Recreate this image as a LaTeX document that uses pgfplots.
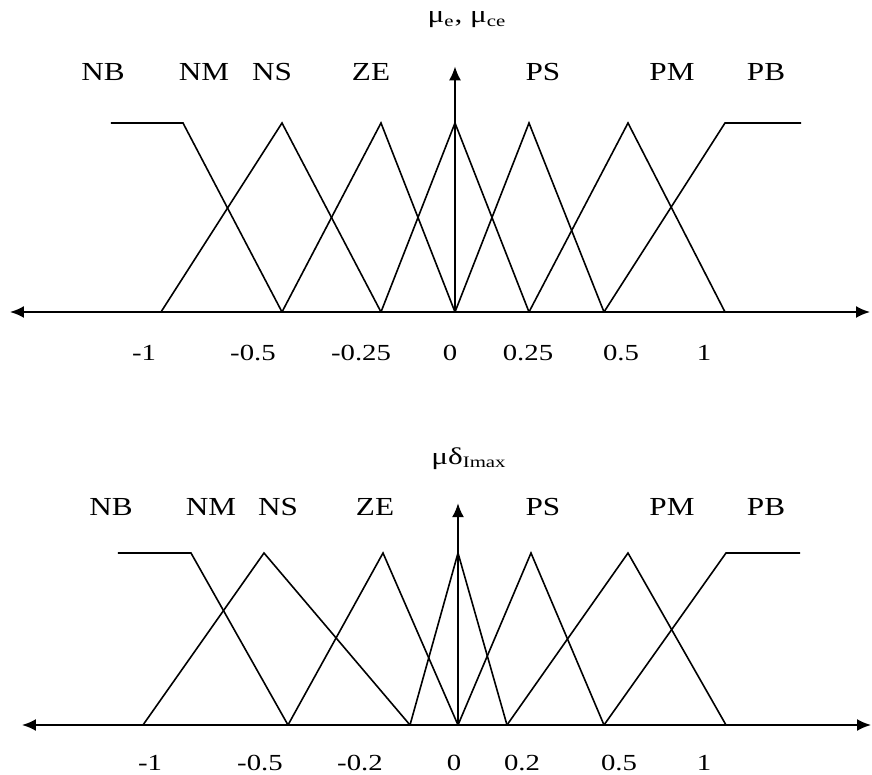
\documentclass[border=0pt]{standalone}
\usepackage{fontspec}
\setmainfont{Liberation Serif}
\newfontfamily\setfont[FakeStretch=1.2]{Liberation Serif}
\newfontfamily\tickfont[FakeStretch=1.25]{Liberation Serif}
\newfontfamily\titlefont[FakeStretch=1.3]{Liberation Serif}
\usepackage{pgfplots}
\pgfplotsset{compat=1.18}
\usetikzlibrary{arrows.meta}

% common look of both membership-function panels
\pgfplotsset{fuzzy/.style={
  x=50pt, axis lines=middle, enlargelimits=false, clip=false,
  ymin=0, ytick=\empty, major tick length=0pt,
  hide obscured x ticks=false,
  axis line style={line width=1.0pt},
  x axis line style={{Latex[length=7pt,width=6pt]}-{Latex[length=7pt,width=6pt]}},
  y axis line style={-{Latex[length=7pt,width=6pt]}},
  xticklabel style={anchor=center, font=\tickfont\fontsize{11.5}{13}\selectfont},
}}
\tikzset{
  mf/.style={black, solid, line width=0.8pt, mark=none},
  setname/.style={font=\setfont\fontsize{13}{15}\selectfont, inner sep=0pt},
  paneltitle/.style={font=\titlefont\fontsize{12}{14}\selectfont, inner sep=0pt},
}

\begin{document}
\begin{tikzpicture}
\path[use as bounding box] (-227.5pt,-231.5pt) rectangle (208.5pt,156pt);

% error / change of error
\begin{axis}[fuzzy, anchor=origin, at={(0pt,0pt)}, y=94.5pt,
  xmin=-4.45, xmax=4.15, ymax=1.30,
  xtick={-3.11,-2.02,-0.94,-0.05,0.73,1.66,2.49},
  xticklabels={-1,-0.5,-0.25,0,0.25,0.5,1},
  xticklabel style={yshift=-20.5pt}]
\addplot[mf] coordinates {(-3.44,1) (-2.72,1) (-1.73,0)};      % NB
\addplot[mf] coordinates {(-2.94,0) (-1.73,1) (-0.74,0)};      % NM
\addplot[mf] coordinates {(-1.73,0) (-0.74,1) (0,0)};          % NS
\addplot[mf] coordinates {(-0.74,0) (0,1) (0.74,0)};           % ZE
\addplot[mf] coordinates {(0,0) (0.74,1) (1.49,0)};            % PS
\addplot[mf] coordinates {(0.74,0) (1.73,1) (2.70,0)};         % PM
\addplot[mf] coordinates {(1.49,0) (2.70,1) (3.46,1)};         % PB
\node[setname] at (axis cs:-3.52,1.27) {NB};
\node[setname] at (axis cs:-2.51,1.27) {NM};
\node[setname] at (axis cs:-1.83,1.27) {NS};
\node[setname] at (axis cs:-0.84,1.27) {ZE};
\node[setname] at (axis cs:0.88,1.27) {PS};
\node[setname] at (axis cs:2.17,1.27) {PM};
\node[setname] at (axis cs:3.11,1.27) {PB};
\node[paneltitle] at (axis cs:0.12,1.545)
  {μ\textsubscript{e}, μ\textsubscript{ce}};
\end{axis}

% output increment
\begin{axis}[fuzzy, anchor=origin, at={(1.5pt,-206.5pt)}, y=86pt,
  xmin=-4.36, xmax=4.13, ymax=1.29,
  xtick={-3.08,-1.98,-0.98,-0.04,0.64,1.61,2.46},
  xticklabels={-1,-0.5,-0.2,0,0.2,0.5,1},
  xticklabel style={yshift=-19pt}]
\addplot[mf] coordinates {(-3.40,1) (-2.67,1) (-1.70,0)};      % NB
\addplot[mf] coordinates {(-3.15,0) (-1.94,1) (-0.48,0)};      % NM
\addplot[mf] coordinates {(-1.70,0) (-0.75,1) (0,0)};          % NS
\addplot[mf] coordinates {(-0.48,0) (0,1) (0.49,0)};           % ZE
\addplot[mf] coordinates {(0,0) (0.73,1) (1.46,0)};            % PS
\addplot[mf] coordinates {(0.49,0) (1.70,1) (2.68,0)};         % PM
\addplot[mf] coordinates {(1.46,0) (2.68,1) (3.42,1)};         % PB
\node[setname] at (axis cs:-3.47,1.27) {NB};
\node[setname] at (axis cs:-2.47,1.27) {NM};
\node[setname] at (axis cs:-1.80,1.27) {NS};
\node[setname] at (axis cs:-0.83,1.27) {ZE};
\node[setname] at (axis cs:0.85,1.27) {PS};
\node[setname] at (axis cs:2.14,1.27) {PM};
\node[setname] at (axis cs:3.08,1.27) {PB};
\node[paneltitle] at (axis cs:0.11,1.55)
  {μδ\textsubscript{Imax}};
\end{axis}
\end{tikzpicture}
\end{document}
